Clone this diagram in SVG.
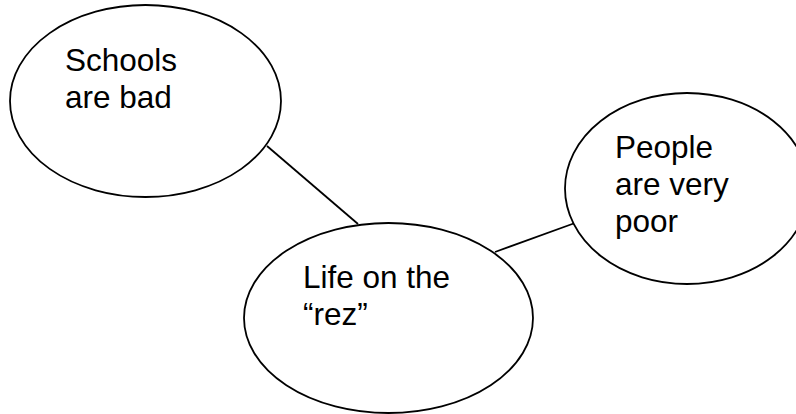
<svg xmlns="http://www.w3.org/2000/svg" width="796" height="414" viewBox="0 0 796 414">
<style>
.n{fill:#fff;stroke:#000;stroke-width:1.8}
.c{stroke:#000;stroke-width:1.8;fill:none}
text{font-family:"Liberation Sans",Arial,sans-serif;font-size:31.5px;fill:#000}
</style>
<rect width="796" height="414" fill="#fff"/>
<g id="connectors">
<line class="c" x1="267" y1="146" x2="358" y2="224"/>
<line class="c" x1="495" y1="252" x2="575" y2="223"/>
</g>
<g id="schools">
<ellipse class="n" cx="145.5" cy="101" rx="135.5" ry="96"/>
<text x="65" y="71">Schools</text>
<text x="65" y="108">are bad</text>
</g>
<g id="life">
<ellipse class="n" cx="388.5" cy="318" rx="144.5" ry="95"/>
<text x="303" y="288">Life on the</text>
<text x="303" y="325">“rez”</text>
</g>
<g id="people">
<ellipse class="n" cx="687" cy="188.5" rx="122" ry="95.5"/>
<text x="615" y="158">People</text>
<text x="615" y="195">are very</text>
<text x="615" y="232">poor</text>
</g>
</svg>
